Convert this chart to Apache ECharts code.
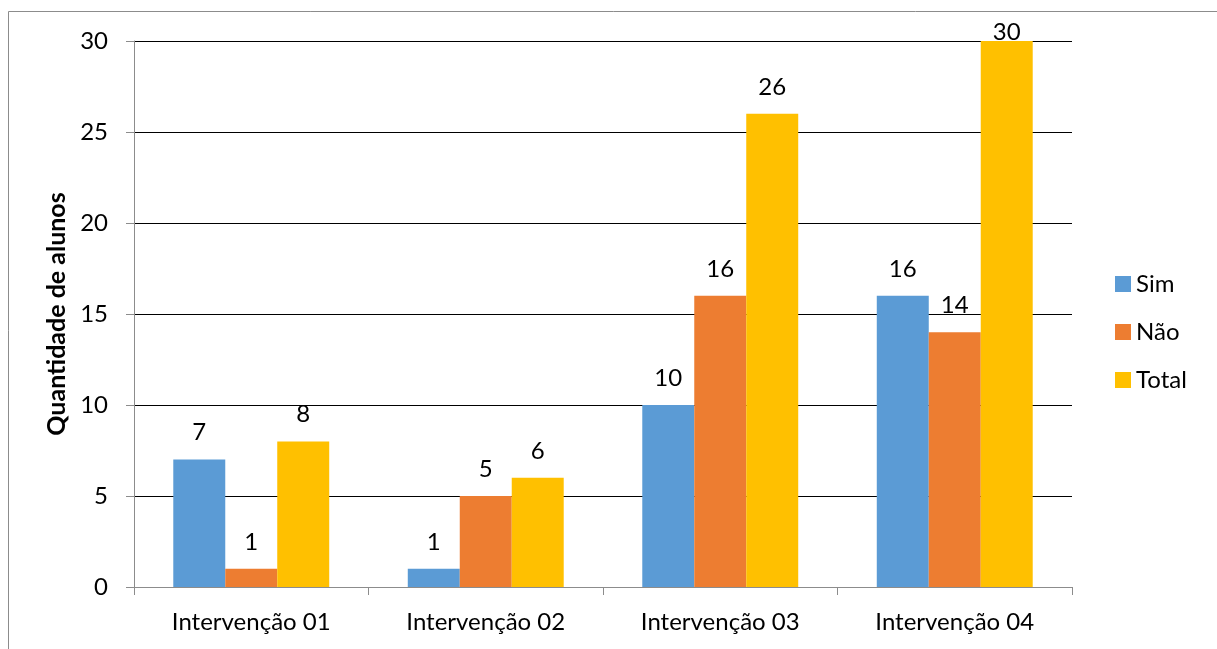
<!DOCTYPE html>
<html>
<head>
<meta charset="utf-8">
<script src="https://cdn.jsdelivr.net/npm/echarts@6/dist/echarts.min.js"></script>
<style>
  html, body { margin: 0; padding: 0; background: #fff; }
  #chart { width: 1217px; height: 649px; }
</style>
</head>
<body>
<div id="chart"></div>
<script>
// Categories and values per series
const categories = ['Intervenção 01', 'Intervenção 02', 'Intervenção 03', 'Intervenção 04'];
const simValues = [7, 1, 10, 16];
const naoValues = [1, 5, 16, 14];
const totalValues = [8, 6, 26, 30];
const seriesNames = ['Sim', 'Não', 'Total'];
const colors = ['#5B9BD5', '#ED7D31', '#FFC000'];

const FONT = 'Lato, "Open Sans", sans-serif';
const FS = 24;
const yMax = 30;

// Labels at the top of the value axis are pulled down to stay inside the chart
function toData(values) {
  return values.map(v => v >= yMax ? { value: v, label: { distance: -3 } } : v);
}

function makeSeries(name, values, color) {
  return {
    name: name,
    type: 'bar',
    data: toData(values),
    barGap: '0%',
    barCategoryGap: '33.5%',
    itemStyle: { color: color },
    label: {
      show: true,
      position: 'top',
      distance: 15,
      color: '#000',
      fontSize: FS,
      fontFamily: FONT
    }
  };
}

const chart = echarts.init(document.getElementById('chart'), null, { renderer: 'canvas' });
chart.setOption({
  animation: false,
  backgroundColor: '#fff',
  grid: { left: 134, right: 145, top: 41, bottom: 62, containLabel: false },
  legend: {
    orient: 'vertical',
    left: 1115,
    top: 272,
    padding: 0,
    itemWidth: 16,
    itemHeight: 16,
    itemGap: 24,
    icon: 'rect',
    textStyle: { fontSize: FS, fontFamily: FONT, color: '#000' },
    data: seriesNames
  },
  xAxis: {
    type: 'category',
    data: categories,
    axisLine: { lineStyle: { color: '#8c8c8c', width: 1 } },
    axisTick: { show: true, length: 8, lineStyle: { color: '#8c8c8c' } },
    axisLabel: { fontSize: FS, fontFamily: FONT, color: '#000', margin: 23 },
    splitLine: { show: false }
  },
  yAxis: {
    type: 'value',
    min: 0,
    max: yMax,
    interval: 5,
    name: 'Quantidade de alunos',
    nameLocation: 'middle',
    nameRotate: 90,
    nameGap: 64,
    nameTextStyle: { fontSize: 25, fontWeight: 'bold', fontFamily: FONT, color: '#000' },
    axisLine: { show: true, lineStyle: { color: '#8c8c8c', width: 1 } },
    axisTick: { show: true, length: 8, lineStyle: { color: '#8c8c8c' } },
    axisLabel: { fontSize: FS, fontFamily: FONT, color: '#000', margin: 26 },
    splitLine: { show: true, lineStyle: { color: '#000', width: 1 } }
  },
  graphic: [{
    type: 'rect',
    shape: { x: 8.5, y: 11.5, width: 1400, height: 800 },
    style: { fill: 'none', stroke: '#8c8c8c', lineWidth: 1 },
    silent: true,
    z: -1
  }],
  series: [
    makeSeries(seriesNames[0], simValues, colors[0]),
    makeSeries(seriesNames[1], naoValues, colors[1]),
    makeSeries(seriesNames[2], totalValues, colors[2])
  ]
});
</script>
</body>
</html>
